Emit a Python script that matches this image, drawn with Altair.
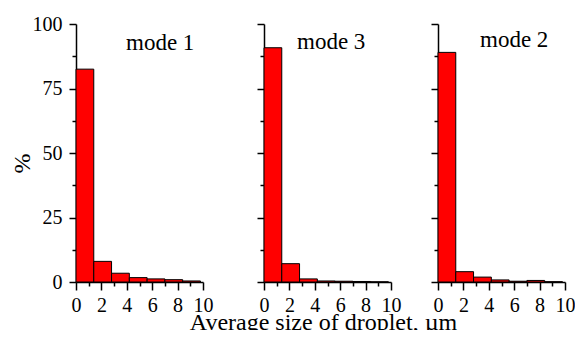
import altair as alt
import pandas as pd

bin_start = [0.0, 1.4, 2.8, 4.2, 5.6, 7.0, 8.4]
bin_end = [1.4, 2.8, 4.2, 5.6, 7.0, 8.4, 9.8]
mode1 = [82.5, 8.0, 3.4, 1.7, 1.2, 0.9, 0.4]
mode3 = [90.8, 7.1, 1.2, 0.4, 0.3, 0.2, 0.05]
mode2 = [89.0, 4.0, 1.9, 0.8, 0.3, 0.6, 0.1]
panel_names = ["mode 1", "mode 3", "mode 2"]
x_ticks = [0, 1, 2, 3, 4, 5, 6, 7, 8, 9, 10]
y_ticks = [0, 12.5, 25, 37.5, 50, 62.5, 75, 87.5, 100]
x_title = "Average size of droplet, µm"
y_title = "%"

FONT = "Liberation Serif"
PW, PH = 127, 258


def panel(name, vals, first, label_dx, label_y):
    df = pd.DataFrame({"start": bin_start, "end": bin_end, "pct": vals})
    x_axis = alt.Axis(
        values=x_ticks,
        labelExpr="datum.value % 2 == 0 ? datum.label : ''",
        tickSize={"condition": {"test": "datum.value % 2 != 0", "value": 4}, "value": 8},
        labelFlush=False,
        labelOverlap=False,
        labelPadding=5,
        title=None,
    )
    y_kwargs = dict(
        values=y_ticks,
        tickSize={"condition": {"test": "datum.value % 25 != 0", "value": 4}, "value": 7},
        labelOverlap=False,
        labelPadding=7,
    )
    if first:
        y_axis = alt.Axis(
            labelExpr="datum.value % 25 == 0 ? datum.label : ''",
            title=y_title,
            titlePadding=-2,
            titleFontSize=24,
            titleY=139,
            **y_kwargs,
        )
    else:
        y_axis = alt.Axis(labels=False, title=None, **y_kwargs)

    bars = alt.Chart(df).mark_bar(
        color="#FF0000", stroke="black", strokeWidth=1
    ).encode(
        x=alt.X("start:Q", scale=alt.Scale(domain=[0, 10], nice=False, zero=False), axis=x_axis),
        x2="end:Q",
        y=alt.Y("pct:Q", scale=alt.Scale(domain=[0, 100], nice=False), axis=y_axis),
        y2=alt.datum(0),
    )
    txt = alt.Chart(pd.DataFrame({"label": [name]})).mark_text(
        align="left", baseline="alphabetic", font=FONT, fontSize=23, color="black"
    ).encode(text="label:N", x=alt.value(label_dx), y=alt.value(label_y))
    return alt.layer(bars, txt).properties(width=PW, height=PH)


def spacer(w):
    return alt.Chart(pd.DataFrame({"label": [""]})).mark_text().encode(
        text="label:N"
    ).properties(width=w, height=PH)


p1 = panel(panel_names[0], mode1, True, 50, 26)
p2 = panel(panel_names[1], mode3, False, 33, 25)
p3 = panel(panel_names[2], mode2, False, 42, 23)

chart = alt.hconcat(
    p1, spacer(61), p2, spacer(47), p3,
    spacing=0,
    bounds="flush",
).properties(
    title=alt.TitleParams(
        text=x_title, orient="bottom", anchor="middle", font=FONT,
        fontSize=24, fontWeight="normal", color="black", offset=15,
        baseline="alphabetic", dx=31,
    ),
    padding={"left": 2, "top": 6, "right": 0, "bottom": -5},
).configure_view(stroke=None).configure_axis(
    grid=False,
    domainColor="black",
    domainWidth=1.5,
    tickColor="black",
    tickWidth=1.5,
    labelFont=FONT,
    labelFontSize=20,
    labelColor="black",
    titleFont=FONT,
    titleFontWeight="normal",
    titleColor="black",
)

chart.save("out.html", embed_options={"renderer": "svg", "actions": False})
